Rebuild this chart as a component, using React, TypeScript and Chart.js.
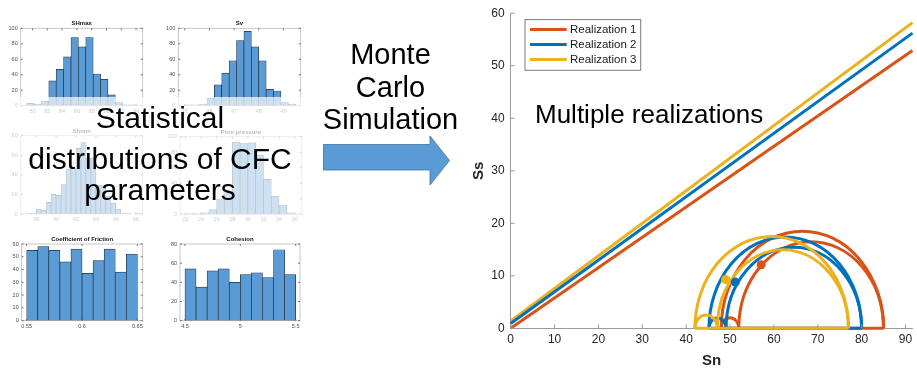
import React, { useEffect, useRef } from 'react';
import { Chart, registerables } from 'chart.js';

Chart.register(...registerables);

const FONT = '"Liberation Sans", Arial, Helvetica, sans-serif';
const BAR_FILL = '#5b9bd5';
const BAR_EDGE = '#1d3045';
const BOX_COLOR = '#b8b8b8';
const TICK_TEXT = '#4d4d4d';

// ---------- Histogram data ----------
const shmaxCounts = [3, 2, 6, 32, 47, 63, 88, 76, 88, 41, 34, 14, 4, 1, 1];
const shmaxBinStart = 79.2;
const shmaxBinWidth = 1.0;
const shmaxTicks = [80, 82, 84, 86, 88, 90, 92, 94];

const svCounts = [1, 1, 2, 10, 27, 42, 58, 84, 96, 76, 58, 21, 19, 4, 2];
const svBinStart = 45.0;
const svBinWidth = 0.3;
const svTicks = [45, 46, 47, 48, 49];

const shminCounts = [1, 1, 5, 4, 12, 20, 19, 30, 46, 47, 67, 73, 57, 57, 29, 29, 18, 11, 5, 1, 1, 0, 1];
const shminBinStart = 37.0;
const shminBinWidth = 0.5;
const shminTicks = [38, 40, 42, 44, 46, 48];

const poreCounts = [1, 1, 2, 6, 20, 28, 93, 91, 92, 76, 45, 23, 12, 2];
const poreBinStart = 22;
const poreBinWidth = 1;
const poreTicks = [22, 24, 26, 28, 30, 32, 34, 36];

const frictionCounts = [55, 58, 55, 46, 56, 37, 47, 56, 38, 52];
const frictionBinStart = 0.55;
const frictionBinWidth = 0.01;
const frictionTicks = [0.55, 0.6, 0.65];

const cohesionCounts = [54, 35, 52, 54, 40, 48, 50, 45, 74, 48];
const cohesionBinStart = 4.5;
const cohesionBinWidth = 0.1;
const cohesionTicks = [4.5, 5, 5.5];

// ---------- Mohr-Coulomb chart data ----------
const realizations = ['Realization 1', 'Realization 2', 'Realization 3'];
const colors = ['#D95319', '#0072BD', '#EDB120'];
const snMax = 91.6;
const envelopeAtZero = [0, 0.9, 1.4];
const envelopeAtMax = [52.9, 56.2, 58.2];
const sigma3 = [48, 45.2, 42];
const sigma2 = [52, 49.1, 47.1];
const sigma1 = [85, 80, 77];
const pointSn = [57.1, 51.2, 49];
const pointSs = [12.1, 8.8, 9.3];
const snTicks = [0, 10, 20, 30, 40, 50, 60, 70, 80, 90];
const ssTicks = [0, 10, 20, 30, 40, 50, 60];

const boxAxesPlugin = {
  id: 'boxAxes',
  afterDraw(chart: any, _args: any, opts: any) {
    const { ctx, chartArea: a, scales } = chart;
    const x = scales.x;
    const y = scales.y;
    ctx.save();
    ctx.strokeStyle = BOX_COLOR;
    ctx.lineWidth = 0.8;
    ctx.strokeRect(a.left, a.top, a.right - a.left, a.bottom - a.top);
    const tl = 2;
    ctx.strokeStyle = '#555';
    ctx.beginPath();
    for (const t of x.ticks) {
      const px = x.getPixelForValue(t.value);
      ctx.moveTo(px, a.bottom);
      ctx.lineTo(px, a.bottom - tl);
      ctx.moveTo(px, a.top);
      ctx.lineTo(px, a.top + tl);
    }
    for (const t of y.ticks) {
      const py = y.getPixelForValue(t.value);
      ctx.moveTo(a.left, py);
      ctx.lineTo(a.left + tl, py);
      ctx.moveTo(a.right, py);
      ctx.lineTo(a.right - tl, py);
    }
    ctx.stroke();
    if (opts && opts.title) {
      ctx.fillStyle = '#111';
      ctx.font = `bold 6px ${FONT}`;
      ctx.textAlign = 'center';
      ctx.textBaseline = 'alphabetic';
      ctx.fillText(opts.title, (a.left + a.right) / 2, a.top - 3);
    }
    ctx.restore();
  },
};

type Box = { l: number; t: number; r: number; b: number };

function MiniHist(props: {
  title: string;
  counts: number[];
  binStart: number;
  binWidth: number;
  xMin: number;
  xMax: number;
  xTicks: number[];
  yMax: number;
  yStep: number;
  box: Box;
}) {
  const { title, counts, binStart, binWidth, xMin, xMax, xTicks, yMax, yStep, box } = props;
  const ref = useRef<HTMLCanvasElement>(null);
  const cl = Math.floor(box.l - 22);
  const ct = Math.floor(box.t - 14);
  const cr = Math.ceil(box.r + 9);
  const cb = Math.ceil(box.b + 13);
  const cw = cr - cl;
  const ch = cb - ct;
  useEffect(() => {
    const yAxisW = box.l - cl;
    const xAxisH = cb - box.b;
    const topPad = box.t - ct;
    const rightPad = cr - box.r;
    const data = counts.map((c, i) => ({ x: binStart + binWidth * (i + 0.5), y: c }));
    const yTicks: number[] = [];
    for (let v = 0; v <= yMax + 1e-9; v += yStep) yTicks.push(v);
    const chart = new Chart(ref.current as HTMLCanvasElement, {
      type: 'bar',
      data: {
        datasets: [
          {
            data,
            backgroundColor: BAR_FILL,
            borderColor: BAR_EDGE,
            borderWidth: 0.7,
            borderSkipped: false,
            barPercentage: 1,
            categoryPercentage: 1,
          } as any,
        ],
      },
      options: {
        animation: false,
        responsive: false,
        devicePixelRatio: 1,
        layout: { padding: { top: topPad, right: rightPad, left: 0, bottom: 0 } },
        plugins: {
          legend: { display: false },
          tooltip: { enabled: false },
          boxAxes: { title },
        } as any,
        scales: {
          x: {
            type: 'linear',
            min: xMin,
            max: xMax,
            offset: false,
            grid: { display: false, drawTicks: false, tickLength: 0 },
            border: { display: false },
            afterBuildTicks: (s: any) => {
              s.ticks = xTicks.map((v) => ({ value: v }));
            },
            afterFit: (s: any) => {
              s.height = xAxisH;
            },
            ticks: {
              autoSkip: false,
              maxRotation: 0,
              padding: 2,
              color: TICK_TEXT,
              font: { size: 5.5, family: FONT },
              callback: (_v: any, i: number) => String(xTicks[i]),
            },
          },
          y: {
            min: 0,
            max: yMax,
            grid: { display: false, drawTicks: false, tickLength: 0 },
            border: { display: false },
            afterBuildTicks: (s: any) => {
              s.ticks = yTicks.map((v) => ({ value: v }));
            },
            afterFit: (s: any) => {
              s.width = yAxisW;
            },
            ticks: {
              autoSkip: false,
              padding: 3,
              color: TICK_TEXT,
              font: { size: 5.5, family: FONT },
              callback: (_v: any, i: number) => String(yTicks[i]),
            },
          },
        } as any,
      },
      plugins: [boxAxesPlugin as any],
    });
    return () => chart.destroy();
  }, []);
  return (
    <canvas
      ref={ref}
      width={cw}
      height={ch}
      style={{ position: 'absolute', left: cl, top: ct, width: cw, height: ch, zIndex: 1 }}
    />
  );
}

const mohrPlugin = {
  id: 'mohr',
  beforeDatasetsDraw(chart: any) {
    const { ctx, scales } = chart;
    const x = scales.x;
    const y = scales.y;
    const y0 = y.getPixelForValue(0);
    ctx.save();
    ctx.lineWidth = 3;
    realizations.forEach((_n, i) => {
      ctx.strokeStyle = colors[i];
      ctx.beginPath();
      ctx.moveTo(x.getPixelForValue(sigma3[i]), y0);
      ctx.lineTo(x.getPixelForValue(sigma1[i]), y0);
      ctx.stroke();
      const pairs = [
        [sigma3[i], sigma1[i]],
        [sigma2[i], sigma1[i]],
        [sigma3[i], sigma2[i]],
      ];
      for (const [lo, hi] of pairs) {
        const xa = x.getPixelForValue(lo);
        const xb = x.getPixelForValue(hi);
        const ry = y0 - y.getPixelForValue((hi - lo) / 2);
        ctx.beginPath();
        ctx.ellipse((xa + xb) / 2, y0, (xb - xa) / 2, ry, 0, Math.PI, 2 * Math.PI);
        ctx.stroke();
      }
    });
    ctx.restore();
  },
  afterDraw(chart: any) {
    const { ctx, chartArea: a, scales } = chart;
    const x = scales.x;
    const y = scales.y;
    ctx.save();
    // inward tick marks
    ctx.strokeStyle = '#9a9a9a';
    ctx.lineWidth = 1;
    ctx.beginPath();
    for (const t of x.ticks) {
      const px = x.getPixelForValue(t.value);
      ctx.moveTo(px, a.bottom);
      ctx.lineTo(px, a.bottom - 4);
    }
    for (const t of y.ticks) {
      const py = y.getPixelForValue(t.value);
      ctx.moveTo(a.left, py);
      ctx.lineTo(a.left + 4, py);
    }
    ctx.stroke();
    // legend
    const lx = a.left + 14.3;
    const ly = a.top + 6.4;
    const lw = 115.7;
    const lh = 50.7;
    ctx.fillStyle = '#ffffff';
    ctx.fillRect(lx, ly, lw, lh);
    ctx.strokeStyle = '#7a7a7a';
    ctx.lineWidth = 1;
    ctx.strokeRect(lx, ly, lw, lh);
    const entries = chart.data.datasets.filter((d: any) => d.label && d.label.length > 0);
    ctx.font = `11.5px ${FONT}`;
    ctx.textAlign = 'left';
    ctx.textBaseline = 'middle';
    entries.forEach((d: any, k: number) => {
      const ry = ly + 10 + k * 15;
      ctx.strokeStyle = d.borderColor;
      ctx.lineWidth = 3;
      ctx.beginPath();
      ctx.moveTo(lx + 5, ry);
      ctx.lineTo(lx + 41.7, ry);
      ctx.stroke();
      ctx.fillStyle = '#1a1a1a';
      ctx.fillText(d.label, lx + 45, ry + 0.5);
    });
    ctx.restore();
  },
};

function MohrChart() {
  const ref = useRef<HTMLCanvasElement>(null);
  const CL = 440;
  const CW = 477;
  const CH = 375;
  useEffect(() => {
    const areaL = 510.7;
    const areaT = 7.9;
    const areaB = 328.3;
    const datasets: any[] = [];
    realizations.forEach((_n, i) => {
      datasets.push({
        label: '',
        data: [{ x: pointSn[i], y: pointSs[i] }],
        backgroundColor: colors[i],
        borderColor: colors[i],
        pointRadius: 4.5,
        borderWidth: 0,
        clip: false,
      });
    });
    realizations.forEach((name, i) => {
      datasets.push({
        label: name,
        data: [
          { x: 0, y: envelopeAtZero[i] },
          { x: snMax, y: envelopeAtMax[i] },
        ],
        showLine: true,
        borderColor: colors[i],
        backgroundColor: colors[i],
        borderWidth: 3,
        pointRadius: 0,
        fill: false,
        clip: false,
      });
    });
    const chart = new Chart(ref.current as HTMLCanvasElement, {
      type: 'scatter',
      data: { datasets },
      options: {
        animation: false,
        responsive: false,
        devicePixelRatio: 1,
        layout: { padding: { top: areaT, right: 0, left: 0, bottom: 0 } },
        plugins: { legend: { display: false }, tooltip: { enabled: false } },
        scales: {
          x: {
            type: 'linear',
            min: 0,
            max: snMax,
            offset: false,
            grid: { display: false, drawTicks: false, tickLength: 0 },
            border: { display: true, color: '#9a9a9a', width: 1 },
            afterBuildTicks: (s: any) => {
              s.ticks = snTicks.map((v) => ({ value: v }));
            },
            afterFit: (s: any) => {
              s.height = CH - areaB;
            },
            ticks: {
              autoSkip: false,
              maxRotation: 0,
              padding: 4,
              color: '#262626',
              font: { size: 12, family: FONT },
              callback: (_v: any, i: number) => String(snTicks[i]),
            },
            title: {
              display: true,
              text: 'Sn',
              color: '#262626',
              font: { size: 15, weight: 'bold', family: FONT },
              padding: { top: 0, bottom: 5.5 },
            },
          },
          y: {
            type: 'linear',
            min: 0,
            max: 60,
            grid: { display: false, drawTicks: false, tickLength: 0 },
            border: { display: true, color: '#9a9a9a', width: 1 },
            afterBuildTicks: (s: any) => {
              s.ticks = ssTicks.map((v) => ({ value: v }));
            },
            afterFit: (s: any) => {
              s.width = areaL - CL;
            },
            ticks: {
              autoSkip: false,
              padding: 6,
              color: '#262626',
              font: { size: 12, family: FONT },
              callback: (_v: any, i: number) => String(ssTicks[i]),
            },
            title: {
              display: true,
              text: 'Ss',
              color: '#262626',
              font: { size: 15, weight: 'bold', family: FONT },
              padding: { top: 30, bottom: 0 },
            },
          },
        } as any,
      },
      plugins: [mohrPlugin as any],
    });
    return () => chart.destroy();
  }, []);
  return (
    <canvas
      ref={ref}
      width={CW}
      height={CH}
      style={{ position: 'absolute', left: CL, top: 0, width: CW, height: CH }}
    />
  );
}

function Txt(props: { text: string; cx?: number; left?: number; baseline: number; size: number; z?: number }) {
  const { text, cx, left, baseline, size, z } = props;
  const top = baseline - 0.8465 * size;
  const style: React.CSSProperties = {
    position: 'absolute',
    top,
    fontFamily: FONT,
    fontSize: size,
    lineHeight: `${size}px`,
    color: '#000',
    whiteSpace: 'nowrap',
    zIndex: z ?? 3,
  };
  if (cx !== undefined) {
    style.left = cx - 200;
    style.width = 400;
    style.textAlign = 'center';
  } else {
    style.left = left;
  }
  return <div style={style}>{text}</div>;
}

export default function App() {
  return (
    <div
      style={{
        position: 'fixed',
        left: 0,
        top: 0,
        width: 917,
        height: 375,
        background: '#fff',
        overflow: 'hidden',
      }}
    >
      <MiniHist title="SHmax" counts={shmaxCounts} binStart={shmaxBinStart} binWidth={shmaxBinWidth}
        xMin={78.4} xMax={94.9} xTicks={shmaxTicks} yMax={100} yStep={20}
        box={{ l: 20.7, t: 28.3, r: 142.7, b: 105.7 }} />
      <MiniHist title="Sv" counts={svCounts} binStart={svBinStart} binWidth={svBinWidth}
        xMin={44.74} xMax={49.7} xTicks={svTicks} yMax={100} yStep={20}
        box={{ l: 178.3, t: 28.3, r: 300.7, b: 105.7 }} />
      <MiniHist title="Shmin" counts={shminCounts} binStart={shminBinStart} binWidth={shminBinWidth}
        xMin={36.45} xMax={48.7} xTicks={shminTicks} yMax={80} yStep={20}
        box={{ l: 20.7, t: 135.7, r: 142.7, b: 214 }} />
      <MiniHist title="Pore pressure" counts={poreCounts} binStart={poreBinStart} binWidth={poreBinWidth}
        xMin={21.3} xMax={36.9} xTicks={poreTicks} yMax={100} yStep={20}
        box={{ l: 180, t: 136.7, r: 301.7, b: 214.3 }} />
      <MiniHist title="Coefficient of Friction" counts={frictionCounts} binStart={frictionBinStart} binWidth={frictionBinWidth}
        xMin={0.5455} xMax={0.6548} xTicks={frictionTicks} yMax={60} yStep={10}
        box={{ l: 21.7, t: 244, r: 142.7, b: 320.7 }} />
      <MiniHist title="Cohesion" counts={cohesionCounts} binStart={cohesionBinStart} binWidth={cohesionBinWidth}
        xMin={4.455} xMax={5.539} xTicks={cohesionTicks} yMax={80} yStep={20}
        box={{ l: 180, t: 244, r: 300, b: 320.7 }} />

      <div style={{ position: 'absolute', left: 0, top: 97, width: 306, height: 129, background: 'rgba(255,255,255,0.7)', zIndex: 2 }} />

      <Txt text="Statistical" cx={160} baseline={128.5} size={30} />
      <Txt text="distributions of CFC" cx={160} baseline={169} size={30} />
      <Txt text="parameters" cx={160} baseline={200} size={30} />

      <Txt text="Monte" cx={390.5} baseline={65} size={29} />
      <Txt text="Carlo" cx={390.5} baseline={97.5} size={29} />
      <Txt text="Simulation" cx={390.5} baseline={130} size={29} />

      <svg width={917} height={375} style={{ position: 'absolute', left: 0, top: 0, zIndex: 1 }}>
        <polygon
          points="323.5,144.5 430,144.5 430,136 449.5,160.5 430,185 430,170 323.5,170"
          fill="#5b9bd5"
          stroke="#41719c"
          strokeWidth={0.8}
        />
      </svg>

      <MohrChart />

      <Txt text="Multiple realizations" left={535} baseline={122.6} size={26} />
    </div>
  );
}
